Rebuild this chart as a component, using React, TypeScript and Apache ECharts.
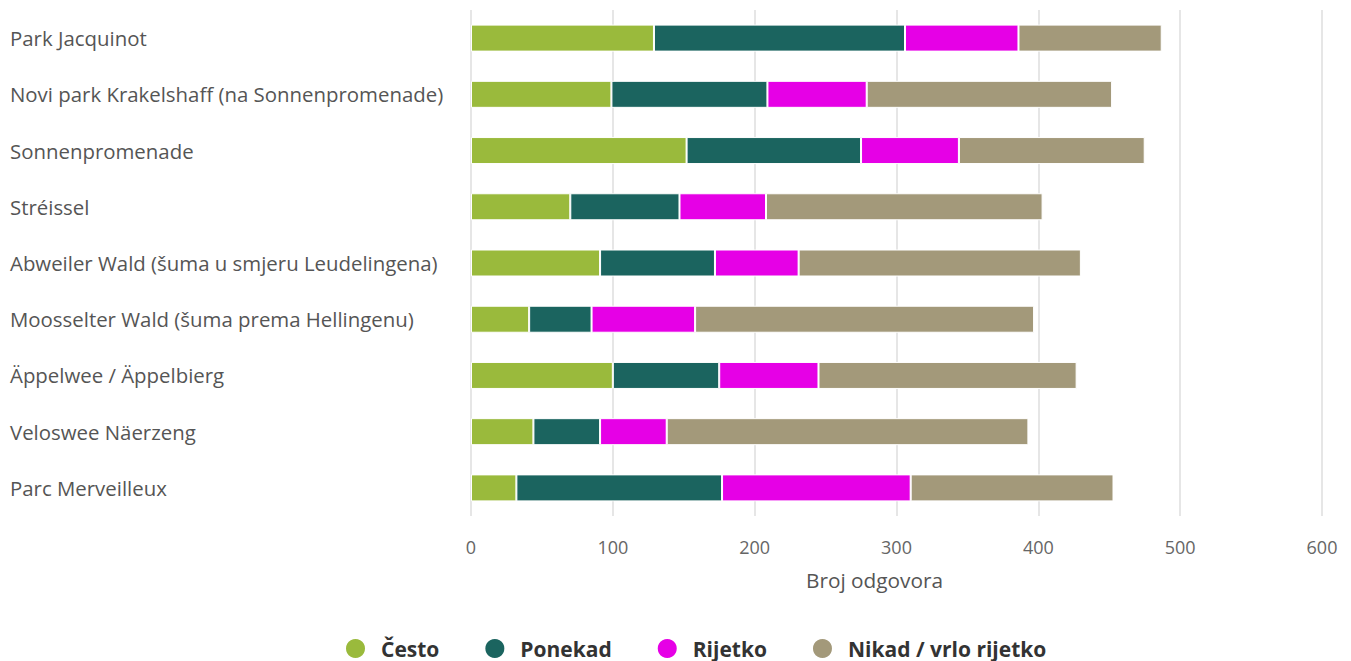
import React, { useEffect, useRef } from "react";
import * as echarts from "echarts";

const categories = [
  "Park Jacquinot",
  "Novi park Krakelshaff (na Sonnenpromenade)",
  "Sonnenpromenade",
  "Stréissel",
  "Abweiler Wald (šuma u smjeru Leudelingena)",
  "Moosselter Wald (šuma prema Hellingenu)",
  "Äppelwee / Äppelbierg",
  "Veloswee Näerzeng",
  "Parc Merveilleux",
];

const seriesNames = ["Često", "Ponekad", "Rijetko", "Nikad / vrlo rijetko"];
const cesto = [129, 99, 152, 70, 91, 41, 100, 44, 32];
const ponekad = [177, 110, 123, 77, 81, 44, 75, 47, 145];
const rijetko = [80, 70, 69, 61, 59, 73, 70, 47, 133];
const nikad = [101, 173, 131, 195, 199, 239, 182, 255, 143];
const colors = ["#9aba3c", "#1b645f", "#e600e6", "#a3997a"];
const xTicks = { min: 0, max: 600, interval: 100 };
const xTitle = "Broj odgovora";

export default function App() {
  const ref = useRef<HTMLDivElement>(null);
  useEffect(() => {
    if (!ref.current) return;
    const chart = echarts.init(ref.current, null, { renderer: "svg" });
    const data = [cesto, ponekad, rijetko, nikad];
    chart.setOption({
      animation: false,
      textStyle: { fontFamily: "Open Sans" },
      grid: { left: 471, right: 29, top: 10, bottom: 145, containLabel: false },
      legend: {
        top: 632,
        left: 339,
        icon: "circle",
        itemWidth: 21,
        itemHeight: 22,
        itemGap: 44,
        textStyle: {
          fontSize: 21,
          fontWeight: "bold",
          color: "#333",
          fontFamily: "Open Sans",
          padding: [0, 0, 0, 10],
        },
        data: seriesNames,
      },
      xAxis: {
        type: "value",
        min: xTicks.min,
        max: xTicks.max,
        interval: xTicks.interval,
        name: xTitle,
        nameLocation: "middle",
        nameGap: 53,
        nameTextStyle: {
          fontSize: 20.8,
          color: "#555",
          fontFamily: "Open Sans",
          padding: [0, 44, 0, 0],
        },
        axisLine: { show: false },
        axisTick: { show: false },
        axisLabel: { fontSize: 18, color: "#666", margin: 22 },
        splitLine: { show: true, lineStyle: { color: "#e6e6e6", width: 2 } },
      },
      yAxis: {
        type: "category",
        data: categories,
        inverse: true,
        axisLine: { show: false },
        axisTick: { show: false },
        axisLabel: { align: "left", margin: 461, fontSize: 20.4, color: "#555" },
      },
      series: seriesNames.map((name, i) => ({
        name,
        type: "bar",
        stack: "total",
        barWidth: 27,
        data: data[i],
        itemStyle: { color: colors[i], borderColor: "#fff", borderWidth: 1 },
      })),
    });
    return () => chart.dispose();
  }, []);
  return <div ref={ref} style={{ width: 1351, height: 661, position: "absolute", left: 0, top: 0 }} />;
}
